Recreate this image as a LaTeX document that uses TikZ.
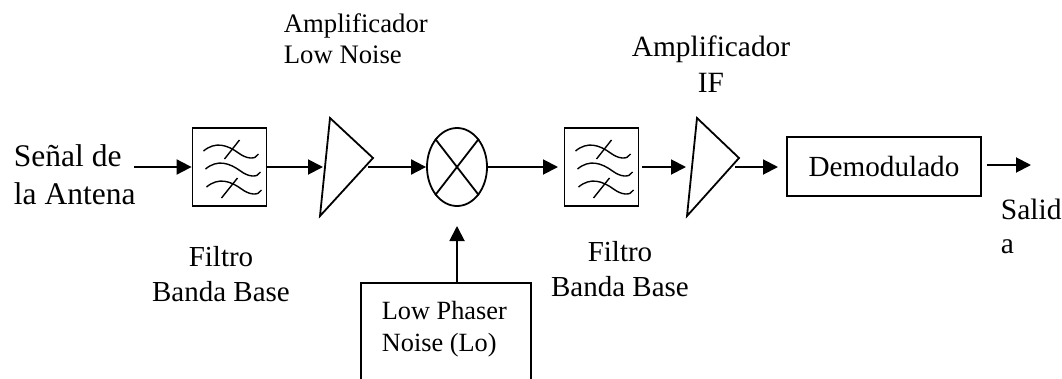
\documentclass[tikz,border=0pt]{standalone}
\usepackage{fontspec}
\setmainfont{Liberation Serif}
\usetikzlibrary{shapes.geometric,arrows.meta}
\newcommand{\txt}[2]{\fontsize{#1}{#2}\selectfont}
\begin{document}
\begin{tikzpicture}
  [x=1pt,y=-1pt,line width=1.8pt,
   blockbox/.style={draw,rectangle,inner sep=0pt},
   filterbox/.style={blockbox,minimum width=74pt,minimum height=78pt},
   label/.style={inner sep=0pt,align=center,anchor=base},
   leftlabel/.style={inner sep=0pt,align=left,anchor=base west},
   wire/.style={-{Triangle[length=15pt,width=15pt]},line width=1.9pt}]
  \useasboundingbox (0,0) rectangle (1062,378);
  \clip (0,0) rectangle (1062,378);

  \node[filterbox] (filterA) at (229.5,167) {};
  \node[filterbox] (filterB) at (601.5,167) {};
  \node[draw,ellipse,inner sep=0pt,minimum width=60pt,minimum height=78pt] (mixer) at (457,167) {};
  \node[blockbox,minimum width=194pt,minimum height=59pt,font=\txt{29.2}{34}] (demod) at (884,166.5) {Demodulado};
  \node[blockbox,minimum width=170pt,minimum height=120pt] (osc) at (446,343) {};
  \node[leftlabel,font=\txt{26.3}{32}] (osctext) at (381,351) {Low Phaser\\Noise (Lo)};

  % amplifiers
  \coordinate (ampAa) at (330,118);
  \coordinate (ampAb) at (320,216);
  \coordinate (ampAc) at (373,158);
  \coordinate (ampBa) at (697,118);
  \coordinate (ampBb) at (687,216);
  \coordinate (ampBc) at (739,158);
  \draw (ampAa) -- (ampAc) -- (ampAb) -- cycle;
  \draw (ampBa) -- (ampBc) -- (ampBb) -- cycle;

  % free ends of the wires
  \coordinate (in) at (134,167);
  \coordinate (ampAin) at (323,167);
  \coordinate (ampAout) at (368,167);
  \coordinate (filterBin) at (558,167);
  \coordinate (filterBout) at (642,167);
  \coordinate (ampBin) at (686,167);
  \coordinate (ampBout) at (735,167);
  \coordinate (demodin) at (778,167);
  \coordinate (demodout) at (987,165);
  \coordinate (out) at (1031,165);
  \coordinate (mixerin) at (457,226);

  \foreach \from/\to in {in/filterA.west, filterA.east/ampAin, ampAout/mixer.west,
      mixer.east/filterBin, filterBout/ampBin, ampBout/demodin, demodout/out, osc.north-|mixer.center/mixerin}
    \draw[wire] (\from) -- (\to);

  % waves in the filters
  \foreach \flt in {filterA,filterB} {
    \foreach \dx/\dy in {0/0,2/18,3/36}
      \draw[line width=1.4pt] ([shift={(-26+\dx,-16+\dy)}]\flt.center)
        .. controls ([shift={(-14+\dx,-26+\dy)}]\flt.center) and ([shift={(-2+\dx,-22+\dy)}]\flt.center) .. ([shift={(9+\dx,-14+\dy)}]\flt.center)
        .. controls ([shift={(17+\dx,-8+\dy)}]\flt.center) and ([shift={(26+\dx,-7+\dy)}]\flt.center) .. ([shift={(29+\dx,-13+\dy)}]\flt.center);
    \draw[line width=1.4pt] ([shift={(10,-27)}]\flt.center) -- ([shift={(-5,-8)}]\flt.center);
    \draw[line width=1.4pt] ([shift={(8,11)}]\flt.center) -- ([shift={(-8,31)}]\flt.center);
  }

  % cross in the mixer
  \draw (mixer.north west) -- (mixer.south east);
  \draw (mixer.north east) -- (mixer.south west);

  % labels
  \node[leftlabel,font=\txt{31.5}{38}] (antenna) at (13,204) {Señal de\\la Antena};
  \node[label,font=\txt{29}{35}] (filterAtext) at (221,301) {Filtro\\Banda Base};
  \node[label,font=\txt{29}{35}] (filterBtext) at (620,296) {Filtro\\Banda Base};
  \node[leftlabel,font=\txt{26.7}{31}] (ampAtext) at (283,63) {Amplificador\\Low Noise};
  \node[label,font=\txt{29.4}{35.5}] (ampBtext) at (711,92) {Amplificador\\IF};
  \node[leftlabel,font=\txt{29.5}{33.5}] (outtext) at (1000,253) {Salid\\a};
\end{tikzpicture}
\end{document}
